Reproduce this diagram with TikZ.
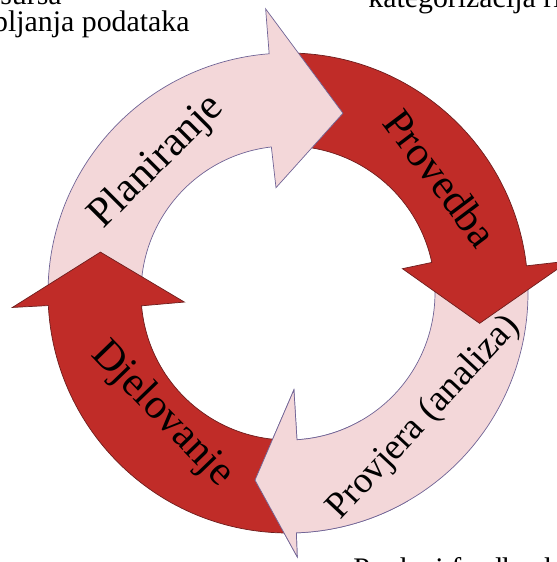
\documentclass[tikz,border=0pt]{standalone}
\usepackage{fontspec}
\setmainfont{Liberation Serif}

\definecolor{palepink}{RGB}{243,215,217}
\definecolor{cycred}{RGB}{192,44,40}
\definecolor{pinkline}{RGB}{112,100,150}
\definecolor{redline}{RGB}{110,30,30}

% one bent arrow of the cycle:
% style, tail angle, outer/inner angle of head base, tip angle, tip radius, outer/inner head radius
\newcommand{\cyclearrow}[8]{%
  \filldraw[#1] (#2:240) arc[start angle=#2, end angle=#3, radius=240]
    -- (#3:#7) -- (#5:#6) -- (#4:#8) -- (#4:147)
    arc[start angle=#4, end angle=#2, radius=147] -- cycle;}

\begin{document}
\begin{tikzpicture}[x=0.02cm,y=0.02cm,
    lightarrow/.style={fill=palepink, draw=pinkline, line width=0.4pt},
    darkarrow/.style={fill=cycred, draw=redline, line width=0.4pt},
    steplabel/.style={font=\fontsize{24}{28}\selectfont, inner sep=0pt},
    sidetext/.style={font=\fontsize{17}{20}\selectfont, inner sep=0pt}]
        \useasboundingbox (-288,-269) rectangle (269,293);
        \clip (-288,-269) rectangle (269,293);

        % the four arrows, each head lying over the next tail
        \cyclearrow{lightarrow}{5}{-88}{-86.5}{-100}{190}{264}{97}
        \cyclearrow{darkarrow}{90}{6.5}{12}{-9}{194}{283}{117}
        \cyclearrow{lightarrow}{180}{94.5}{96.5}{73}{188}{285}{106}
        \cyclearrow{darkarrow}{-90}{-177}{-175}{-192.3}{192}{276}{104}

        % head of Provjera again, over the tail of Djelovanje
        \begin{scope}
            \clip (0,0) -- (-60:330) -- (-95:330) -- (-130:330) -- cycle;
            \cyclearrow{lightarrow}{5}{-88}{-86.5}{-100}{190}{264}{97}
        \end{scope}

        % labels on the arrows
        \node[steplabel, rotate=45] (plan) at (135:185) {Planiranje};
        \node[steplabel, rotate=-53] (proved) at (37:191) {Provedba};
        \node[steplabel, rotate=47, font=\fontsize{21}{25}\selectfont] (provj) at (-42.6:185) {Provjera (analiza)};
        \node[steplabel, rotate=-46] (djel) at (224:175) {Djelovanje};

        % texts cut off at the edges
        \node[sidetext, anchor=base east] (res) at (-226,289) {resursa};
        \node[sidetext, anchor=base east] (prik) at (-98,262) {prikupljanja podataka};
        \node[sidetext, anchor=base west] (kat) at (80,286) {kategorizacija rizika};
        \node[sidetext, anchor=base west] (pouka) at (65,-285) {Pouka i feedback};
    \end{tikzpicture}
\end{document}
